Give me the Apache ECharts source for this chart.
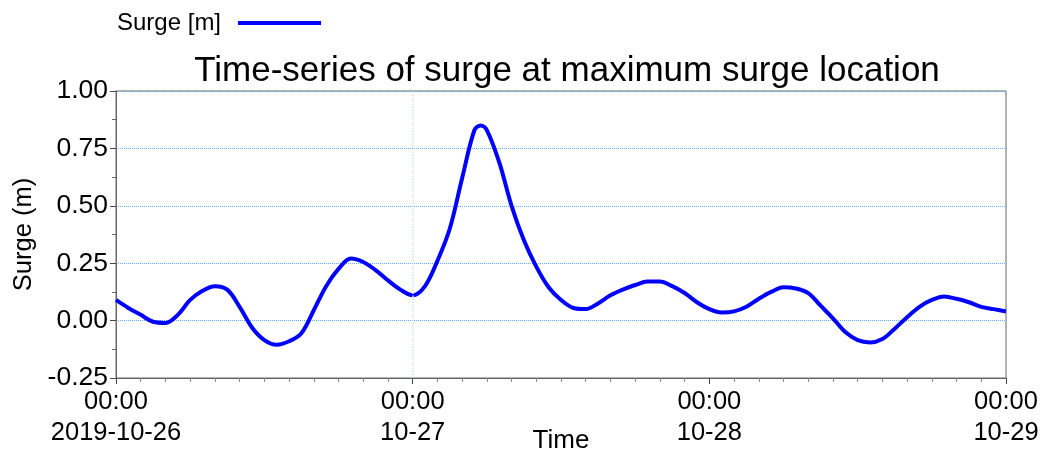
<!DOCTYPE html>
<html>
<head>
<meta charset="utf-8">
<script src="https://cdn.jsdelivr.net/npm/echarts@6/dist/echarts.min.js"></script>
<style>
  html, body { margin: 0; padding: 0; background: #fff; }
  #container { width: 1043px; height: 454px; }
</style>
</head>
<body>
<div id="container"></div>
<script>
// hours since 2019-10-26 00:00
var hours = [0, 1, 2, 3, 4, 5, 6, 7, 8, 9, 10, 11, 12, 13, 14, 15, 16, 17, 18, 19,
  20, 21, 22, 23, 24, 25, 26, 27, 28, 29, 29.5, 30, 31, 32, 33, 34, 35, 36, 37, 38, 39,
  40, 41, 42, 43, 44, 45, 46, 47, 48, 49, 50, 51, 52, 53, 54, 55, 56, 57, 58, 59,
  60, 61, 62, 63, 64, 65, 66, 67, 68, 69, 70, 71, 72];
var surge = [0.09, 0.055, 0.025, -0.005, -0.01, 0.025, 0.09, 0.13, 0.15, 0.135,
  0.06, -0.03, -0.085, -0.105, -0.09, -0.055, 0.045, 0.15, 0.225, 0.27,
  0.255, 0.22, 0.175, 0.135, 0.11, 0.15, 0.26, 0.4, 0.62, 0.83, 0.85, 0.83, 0.69, 0.5, 0.35,
  0.235, 0.145, 0.09, 0.055, 0.05, 0.075, 0.11, 0.135, 0.155, 0.17,
  0.17, 0.15, 0.12, 0.08, 0.05, 0.035, 0.04, 0.06, 0.095, 0.125,
  0.145, 0.14, 0.12, 0.065, 0.01, -0.05, -0.085, -0.095, -0.08, -0.035,
  0.015, 0.06, 0.09, 0.105, 0.095, 0.08, 0.06, 0.05, 0.04];
var dayLabels = ['00:00\n2019-10-26', '00:00\n10-27', '00:00\n10-28', '00:00\n10-29'];
var gridDay = 24; // only this day boundary has a vertical grid line

var seriesData = [];
for (var i = 0; i < hours.length; i++) {
  seriesData.push([hours[i], surge[i]]);
}

var font = 'Liberation Sans, Arial, sans-serif';
var gridColor = '#62aefc';

var myChart = echarts.init(document.getElementById('container'));
var option = {
  animation: false,
  backgroundColor: '#fff',
  title: {
    text: 'Time-series of surge at maximum surge location',
    left: 562,
    textAlign: 'center',
    top: 49,
    textStyle: { color: '#000', fontSize: 35, fontWeight: 'normal', fontFamily: font }
  },
  legend: {
    data: [{ name: 'Surge [m]', icon: 'rect' }],
    left: 112,
    top: 6,
    align: 'right',
    itemWidth: 83,
    itemHeight: 4,
    itemGap: 10,
    textStyle: { color: '#000', fontSize: 24, fontFamily: font, padding: [0, 12, 0, 0] }
  },
  grid: {
    left: 116, right: 37, top: 91, bottom: 76,
    outerBoundsMode: 'none',
    containLabel: false,
    show: true, borderColor: '#666', borderWidth: 1
  },
  xAxis: {
    type: 'value',
    min: 0, max: 72, interval: 24,
    name: 'Time',
    nameLocation: 'middle',
    nameGap: 50,
    nameMoveOverlap: false,
    nameTextStyle: { color: '#000', fontSize: 26, fontFamily: font },
    axisLine: { onZero: false, lineStyle: { color: '#666' } },
    axisTick: { show: true, length: 6, lineStyle: { color: '#444' } },
    minorTick: { show: true, splitNumber: 12, length: 4, lineStyle: { color: '#888' } },
    axisLabel: {
      color: '#000', fontSize: 25.5, fontFamily: font, margin: 8, lineHeight: 31,
      formatter: function (v) { return dayLabels[Math.round(v / 24)]; }
    },
    splitLine: { show: false }
  },
  yAxis: {
    type: 'value',
    min: -0.25, max: 1.0, interval: 0.25,
    name: 'Surge (m)',
    nameLocation: 'middle',
    nameGap: 78,
    nameTextStyle: { color: '#000', fontSize: 25.5, fontFamily: font },
    axisLine: { show: true, onZero: false, lineStyle: { color: '#666' } },
    axisTick: { show: true, length: 6, lineStyle: { color: '#444' } },
    minorTick: { show: true, splitNumber: 2, length: 4, lineStyle: { color: '#666' } },
    axisLabel: {
      color: '#000', fontSize: 26.5, fontFamily: font, margin: 8,
      formatter: function (v) { return v.toFixed(2); }
    },
    splitLine: { show: true, lineStyle: { color: gridColor, type: 'dotted', width: 1 } }
  },
  series: [{
    name: 'Surge [m]',
    type: 'line',
    data: seriesData,
    smooth: 0.35,
    showSymbol: false,
    symbol: 'none',
    color: '#0000ff',
    lineStyle: { color: '#0000ff', width: 4 },
    markLine: {
      silent: true,
      symbol: 'none',
      label: { show: false },
      lineStyle: { color: '#cfe3fa', type: 'dotted', width: 1.5 },
      data: [{ xAxis: gridDay }]
    },
    z: 3
  }]
};
myChart.setOption(option, true);
</script>
</body>
</html>
